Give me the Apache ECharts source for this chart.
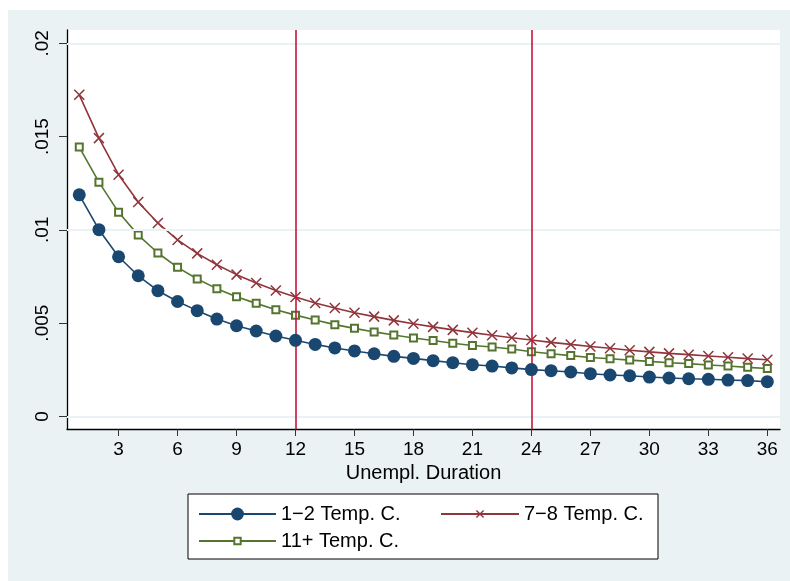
<!DOCTYPE html>
<html>
<head>
<meta charset="utf-8">
<script src="https://cdn.jsdelivr.net/npm/echarts@6/dist/echarts.min.js"></script>
<style>
html, body { margin: 0; padding: 0; background: #fff; }
#chart { position: absolute; left: 8px; top: 10px; width: 782px; height: 571px; }
</style>
</head>
<body>
<div id="chart"></div>
<script>
// unemployment duration in months
const months = [1, 2, 3, 4, 5, 6, 7, 8, 9, 10, 11, 12, 13, 14, 15, 16, 17, 18,
  19, 20, 21, 22, 23, 24, 25, 26, 27, 28, 29, 30, 31, 32, 33, 34, 35, 36];

const temp12 = [0.01188, 0.01001, 0.00856, 0.00754, 0.00674, 0.00616, 0.00567, 0.00522, 0.00486,
  0.00458, 0.00431, 0.00408, 0.00386, 0.00367, 0.00351, 0.00336, 0.00322, 0.00311,
  0.00299, 0.00288, 0.00277, 0.00270, 0.00260, 0.00251, 0.00245, 0.00238, 0.00229,
  0.00222, 0.00218, 0.00211, 0.00206, 0.00202, 0.00199, 0.00195, 0.00192, 0.00186];

const temp78 = [0.01724, 0.01492, 0.01296, 0.01149, 0.01037, 0.00946, 0.00874, 0.00813, 0.00760,
  0.00715, 0.00675, 0.00640, 0.00608, 0.00581, 0.00556, 0.00535, 0.00515, 0.00497,
  0.00480, 0.00464, 0.00449, 0.00435, 0.00422, 0.00410, 0.00397, 0.00386, 0.00375,
  0.00365, 0.00355, 0.00346, 0.00338, 0.00331, 0.00324, 0.00317, 0.00310, 0.00304];

const temp11 = [0.01444, 0.01256, 0.01094, 0.00972, 0.00876, 0.00799, 0.00737, 0.00685, 0.00642,
  0.00606, 0.00572, 0.00543, 0.00517, 0.00492, 0.00472, 0.00453, 0.00436, 0.00420,
  0.00407, 0.00392, 0.00380, 0.00372, 0.00361, 0.00347, 0.00336, 0.00326, 0.00316,
  0.00309, 0.00302, 0.00295, 0.00288, 0.00283, 0.00276, 0.00270, 0.00263, 0.00257];

const xTicks = [3, 6, 9, 12, 15, 18, 21, 24, 27, 30, 33, 36];
const yTicks = [0, 0.005, 0.01, 0.015, 0.02];
const yTickLabels = ['0', '.005', '.01', '.015', '.02'];
const refLines = [12, 24];

const names = ['1\u22122 Temp. C.', '7\u22128 Temp. C.', '11+ Temp. C.'];
const font = 'Liberation Sans, Arial, sans-serif';

function pairs(vals) {
  return months.map((m, i) => [m, vals[i]]);
}

const chart = echarts.init(document.getElementById('chart'));

const option = {
  animation: false,
  backgroundColor: '#eaf2f3',
  textStyle: { fontFamily: font },
  grid: {
    left: 59, right: 10, top: 20, bottom: 152,
    show: true, backgroundColor: '#fff', borderWidth: 0
  },
  graphic: [{
    type: 'rect',
    shape: { x: 180, y: 484, width: 470, height: 65 },
    style: { fill: '#fff', stroke: '#000', lineWidth: 1 },
    z: -1
  }],
  legend: [
    {
      data: [names[0]], left: 190, top: 494, padding: 0,
      itemWidth: 77, itemHeight: 16, selectedMode: false,
      itemStyle: { borderWidth: 0 },
      textStyle: { fontSize: 20, lineHeight: 20, color: '#000', fontFamily: font }
    },
    {
      data: [names[1]], left: 432, top: 494, padding: 0,
      itemWidth: 78, itemHeight: 9, selectedMode: false,
      itemStyle: { borderWidth: 1.4 },
      textStyle: { fontSize: 20, lineHeight: 20, color: '#000', fontFamily: font }
    },
    {
      data: [names[2]], left: 190, top: 521, padding: 0,
      itemWidth: 77, itemHeight: 8, selectedMode: false,
      itemStyle: { borderWidth: 1.4 },
      textStyle: { fontSize: 20, lineHeight: 20, color: '#000', fontFamily: font }
    }
  ],
  xAxis: {
    type: 'value',
    min: 0.376,
    max: 36.645,
    name: 'Unempl. Duration',
    nameLocation: 'middle',
    nameGap: 30,
    nameTextStyle: { fontSize: 20, color: '#000', fontFamily: font },
    axisLine: { show: true, onZero: false, lineStyle: { color: '#000', width: 1.3 } },
    axisTick: { show: true, customValues: xTicks, length: 7, lineStyle: { color: '#333' } },
    axisLabel: { customValues: xTicks, fontSize: 19, color: '#000', margin: 11, fontFamily: font },
    splitLine: { show: false }
  },
  yAxis: {
    type: 'value',
    min: -0.000675,
    max: 0.020716,
    axisLine: { show: true, onZero: false, lineStyle: { color: '#000', width: 1.3 } },
    axisTick: { show: true, customValues: yTicks, length: 8, lineStyle: { color: '#333' } },
    axisLabel: {
      customValues: yTicks,
      rotate: 90,
      margin: 15,
      fontSize: 19,
      color: '#000',
      fontFamily: font,
      formatter: v => {
        const i = yTicks.findIndex(t => Math.abs(t - v) < 1e-9);
        return i >= 0 ? yTickLabels[i] : '';
      }
    },
    splitLine: { show: false }
  },
  series: [
    {
      // horizontal grid lines at the y ticks
      type: 'line',
      data: [],
      silent: true,
      z: 1,
      markLine: {
        silent: true,
        symbol: 'none',
        label: { show: false },
        lineStyle: { color: '#eaf2f3', width: 2, type: 'solid' },
        data: yTicks.map(v => ({ yAxis: v }))
      }
    },
    {
      // vertical reference lines
      type: 'line',
      data: [],
      silent: true,
      z: 2,
      markLine: {
        silent: true,
        symbol: 'none',
        label: { show: false },
        lineStyle: { color: '#c4163b', width: 1.6, type: 'solid' },
        data: refLines.map(v => ({ xAxis: v }))
      }
    },
    {
      name: names[0],
      type: 'line',
      data: pairs(temp12),
      symbol: 'circle',
      symbolSize: 13,
      z: 5,
      lineStyle: { color: '#1a476f', width: 1.6 },
      itemStyle: { color: '#1a476f' }
    },
    {
      name: names[1],
      type: 'line',
      data: pairs(temp78),
      symbol: 'path://M0,0L10,10M10,0L0,10',
      symbolSize: 10,
      z: 4,
      lineStyle: { color: '#90353b', width: 1.6 },
      itemStyle: { color: '#90353b', borderColor: '#90353b', borderWidth: 1.5 }
    },
    {
      name: names[2],
      type: 'line',
      data: pairs(temp11),
      symbol: 'emptyRect',
      symbolSize: 7,
      z: 4,
      lineStyle: { color: '#55752f', width: 1.6 },
      itemStyle: { color: '#55752f', borderColor: '#55752f', borderWidth: 1.5 }
    }
  ]
};

chart.setOption(option);
</script>
</body>
</html>
